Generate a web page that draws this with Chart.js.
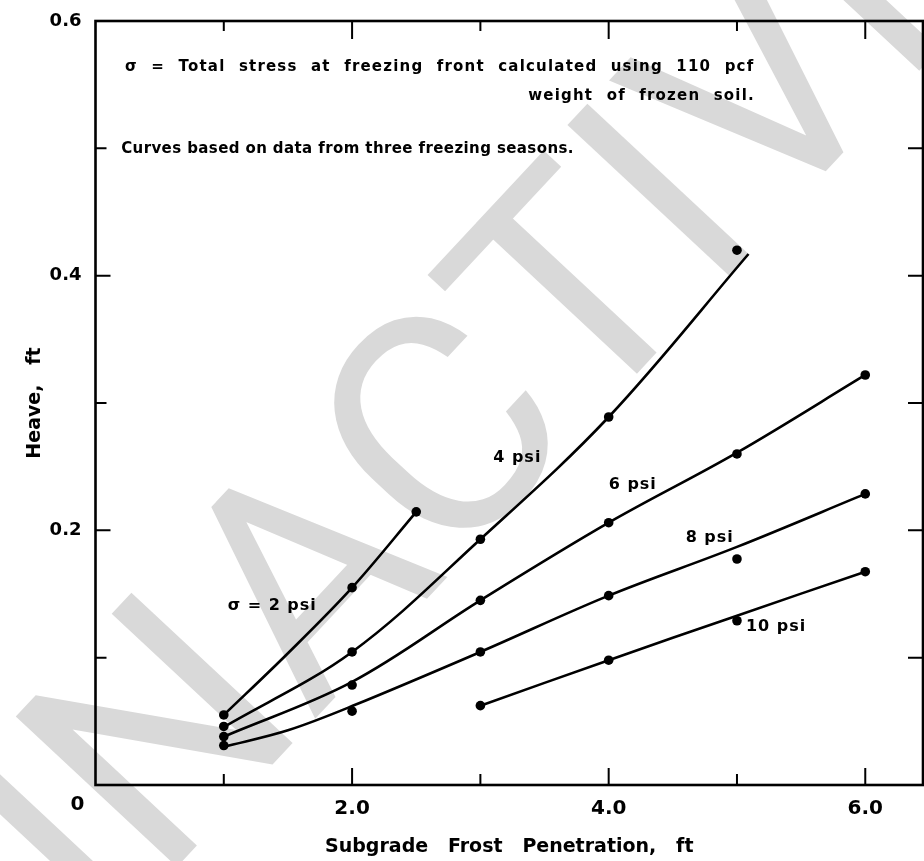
<!DOCTYPE html>
<html>
<head>
<meta charset="utf-8">
<script src="https://cdn.jsdelivr.net/npm/chart.js@4.4.1/dist/chart.umd.min.js"></script>
<style>
  html, body { margin: 0; padding: 0; background: #fff; }
  #wrap { width: 924px; height: 861px; position: relative; }
</style>
</head>
<body>
<div id="wrap"><canvas id="chart"></canvas></div>
<script>
const pts2x  = [1, 2, 2.5];
const pts2y  = [0.055, 0.155, 0.2145];
const pts4x  = [1, 2, 3, 4, 5];
const pts4y  = [0.046, 0.1045, 0.193, 0.289, 0.42];
const pts6x  = [1, 2, 3, 4, 5, 6];
const pts6y  = [0.038, 0.0785, 0.145, 0.206, 0.26, 0.322];
const pts8x  = [1, 2, 3, 4, 5, 6];
const pts8y  = [0.031, 0.058, 0.1045, 0.1487, 0.1775, 0.2286];
const pts10x = [3, 4, 5, 6];
const pts10y = [0.0623, 0.098, 0.129, 0.1675];

// ---------- hand-drawn curves ----------
const crv2x  = [1, 1.5, 2, 2.5];
const crv2y  = [0.055, 0.1035, 0.155, 0.2145];
const crv4x  = [1, 2, 3, 4, 5.09];
const crv4y  = [0.0455, 0.1045, 0.193, 0.289, 0.417];
const crv6x  = [1, 2, 3, 4, 5, 6];
const crv6y  = [0.038, 0.081, 0.145, 0.206, 0.261, 0.322];
const crv8x  = [1, 1.5, 2, 3, 4, 5, 6];
const crv8y  = [0.030, 0.043, 0.062, 0.1045, 0.1487, 0.187, 0.2286];
const crv10x = [3, 4, 5, 6];
const crv10y = [0.0623, 0.098, 0.133, 0.1675];

// ---------- axes ----------
const xLabels = { 2: "2.0", 4: "4.0", 6: "6.0" };
const yLabels = { 2: "0.2", 4: "0.4", 6: "0.6" };
const xMarks  = [1, 2, 3, 4, 5, 6];
const yMarks  = [0.1, 0.2, 0.3, 0.4, 0.5];

// curve labels: [text, x, y]
const curveNotes = [
  ["σ = 2 psi", 1.03, 0.141],
  ["4 psi", 3.10, 0.257],
  ["6 psi", 4.00, 0.236],
  ["8 psi", 4.60, 0.194],
  ["10 psi", 5.07, 0.124],
];

const INK = "#000";
const zip = (xs, ys) => xs.map((x, i) => ({ x, y: ys[i] }));

function curve(xs, ys) {
  return {
    data: zip(xs, ys), showLine: true, borderColor: INK, borderWidth: 2.6,
    pointRadius: 0, tension: 0.35, fill: false,
  };
}
function dots(xs, ys) {
  return {
    data: zip(xs, ys), showLine: false, pointRadius: 4.8,
    pointBackgroundColor: INK, pointBorderColor: INK, pointBorderWidth: 0,
  };
}

// ---------- watermark, frame, inward ticks, notes ----------
const paperPlugin = {
  id: "paper",
  beforeDraw(chart) {
    const { ctx } = chart;
    ctx.save();
    ctx.fillStyle = "#fff";
    ctx.fillRect(0, 0, chart.width, chart.height);
    // grey diagonal stamp; the T stem is pinned to where it sits in the scan
    ctx.translate(500, 390);
    ctx.rotate(-47 * Math.PI / 180);
    ctx.fillStyle = "#d9d9d9";
    ctx.font = "400 310px Roboto";
    const wT = ctx.measureText("T").width;
    const wPre = ctx.measureText("INAC").width;
    ctx.textAlign = "left";
    ctx.textBaseline = "alphabetic";
    ctx.fillText("INACTIVE", 124 - wPre - wT / 2, 89);
    ctx.restore();
  },
  afterDraw(chart) {
    const { ctx, chartArea: a } = chart;
    const xs = chart.scales.x, ys = chart.scales.y;
    ctx.save();
    ctx.strokeStyle = INK;
    ctx.lineWidth = 2.6;
    ctx.strokeRect(a.left, a.top, a.right - a.left, a.bottom - a.top);
    ctx.lineWidth = 2;
    ctx.beginPath();
    xMarks.forEach((v) => {
      const px = xs.getPixelForValue(v);
      const bl = v % 2 === 0 ? 17 : 11;
      const tl = v % 2 === 0 ? 18 : 10;
      ctx.moveTo(px, a.bottom); ctx.lineTo(px, a.bottom - bl);
      ctx.moveTo(px, a.top);    ctx.lineTo(px, a.top + tl);
    });
    yMarks.forEach((v) => {
      const py = ys.getPixelForValue(v);
      const len = Math.round(v * 10) % 2 === 0 ? 15 : 11;
      ctx.moveTo(a.left, py);  ctx.lineTo(a.left + len, py);
      ctx.moveTo(a.right, py); ctx.lineTo(a.right - 15, py);
    });
    ctx.stroke();

    ctx.fillStyle = INK;
    // origin label sits left of the corner, as in the scan
    ctx.font = "bold 20px 'DejaVu Sans'";
    ctx.textAlign = "center";
    ctx.textBaseline = "middle";
    ctx.fillText("0", a.left - 18, a.bottom + 20);

    ctx.textAlign = "left";
    ctx.font = "bold 16px 'DejaVu Sans'";
    ctx.letterSpacing = "1px";
    curveNotes.forEach(([t, x, y]) => {
      ctx.fillText(t, xs.getPixelForValue(x), ys.getPixelForValue(y));
    });

    ctx.font = "bold 15px 'DejaVu Sans'";
    ctx.letterSpacing = "1.2px";
    ctx.wordSpacing = "7px";
    ctx.fillText("σ = Total stress at freezing front calculated using 110 pcf",
      xs.getPixelForValue(0.23), ys.getPixelForValue(0.564));
    ctx.textAlign = "right";
    ctx.fillText("weight of frozen soil.",
      xs.getPixelForValue(5.14), ys.getPixelForValue(0.541));
    ctx.textAlign = "left";
    ctx.letterSpacing = "0.4px";
    ctx.wordSpacing = "0px";
    ctx.fillText("Curves based on data from three freezing seasons.",
      xs.getPixelForValue(0.2), ys.getPixelForValue(0.499));
    ctx.restore();
  },
};

new Chart(document.getElementById("chart"), {
  type: "scatter",
  data: {
    datasets: [
      curve(crv2x, crv2y), curve(crv4x, crv4y), curve(crv6x, crv6y),
      curve(crv8x, crv8y), curve(crv10x, crv10y),
      dots(pts2x, pts2y), dots(pts4x, pts4y), dots(pts6x, pts6y),
      dots(pts8x, pts8y), dots(pts10x, pts10y),
    ],
  },
  options: {
    responsive: true,
    maintainAspectRatio: false,
    animation: false,
    layout: { autoPadding: false, padding: { top: 21, right: 1, left: 0, bottom: 0 } },
    plugins: { legend: { display: false }, tooltip: { enabled: false } },
    scales: {
      x: {
        type: "linear", min: 0, max: 6.45,
        border: { display: false },
        grid: { display: false, drawTicks: false },
        ticks: {
          stepSize: 1, includeBounds: false, padding: 12, color: INK,
          autoSkip: false, maxRotation: 0,
          font: { family: "'DejaVu Sans'", size: 20, weight: "bold" },
          callback: (v) => xLabels[v] ?? "",
        },
        title: {
          display: true, text: "Subgrade   Frost   Penetration,   ft", color: INK,
          font: { family: "'DejaVu Sans'", size: 19, weight: "bold" },
          padding: 3,
        },
        afterFit: (s) => { s.height = 76; s.paddingLeft = 0; s.paddingRight = 0; },
      },
      y: {
        type: "linear", min: 0, max: 0.6,
        border: { display: false },
        grid: { display: false, drawTicks: false },
        ticks: {
          stepSize: 0.1, padding: 14, color: INK, autoSkip: false,
          font: { family: "'DejaVu Sans'", size: 18, weight: "bold" },
          callback: (v) => yLabels[Math.round(v * 10)] ?? "",
        },
        title: {
          display: true, text: "Heave,   ft", color: INK,
          font: { family: "'DejaVu Sans'", size: 19, weight: "bold" },
          padding: 24,
        },
        afterFit: (s) => { s.width = 95.5; s.paddingTop = 0; s.paddingBottom = 0; },
      },
    },
  },
  plugins: [paperPlugin],
});
</script>
</body>
</html>
